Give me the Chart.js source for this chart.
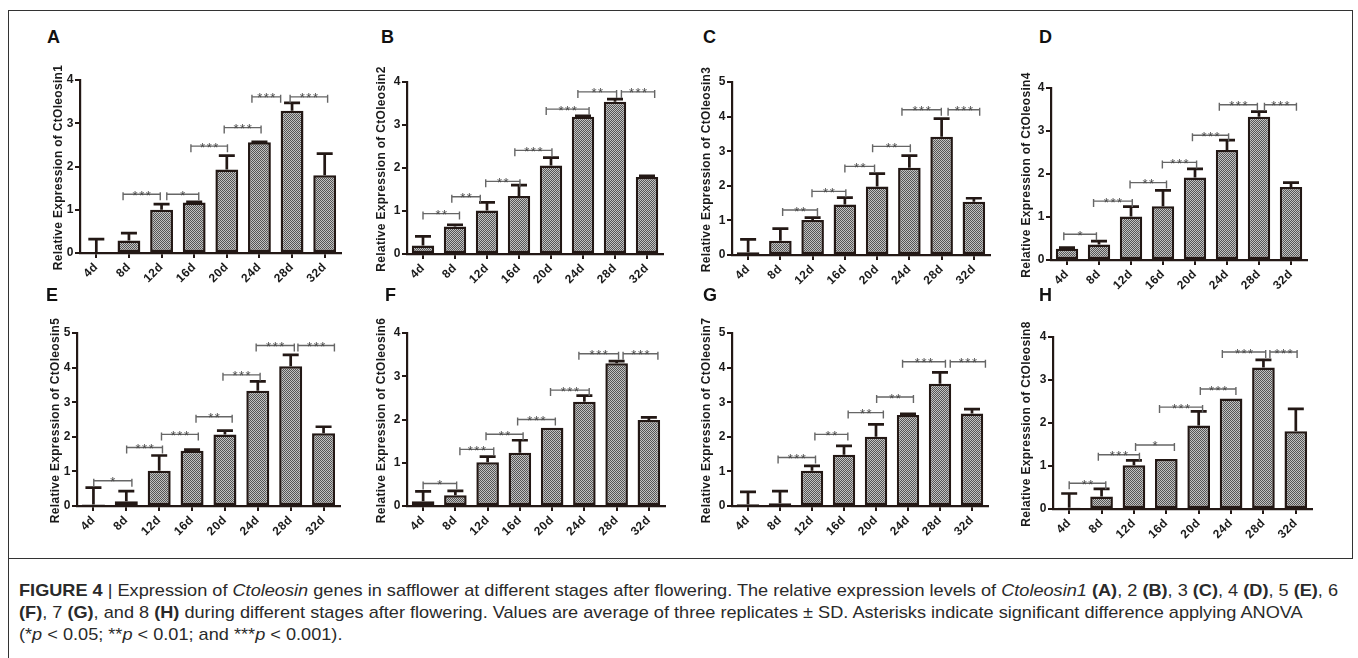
<!DOCTYPE html>
<html><head><meta charset="utf-8">
<script src="https://cdn.jsdelivr.net/npm/chart.js@4.4.1/dist/chart.umd.min.js"></script>
<style>
html,body{margin:0;padding:0;background:#fff}
body{width:1358px;height:658px;position:relative;overflow:hidden;font-family:Arial,"Liberation Sans",sans-serif}
canvas{position:absolute}
.letter{position:absolute;font:bold 18px Arial,"Liberation Sans",sans-serif;line-height:18px;color:#111}
.rule{position:absolute;background:#333}
#cap{position:absolute;left:19px;top:580px;font-family:Arial,"Liberation Sans",sans-serif;font-size:17px;line-height:22px;color:#2a2a2a;white-space:nowrap;transform-origin:0 0}
#cap div{height:22px}
</style></head><body>
<div class="rule" style="left:8px;top:10px;width:1345px;height:1px"></div>
<div class="rule" style="left:8px;top:10px;width:1px;height:648px"></div>
<div class="rule" style="left:1352px;top:10px;width:1px;height:549px"></div>
<div class="rule" style="left:8px;top:558px;width:1345px;height:1px"></div>
<div id="cap">
<div id="l1"><b>FIGURE 4</b> | Expression of <i>Ctoleosin</i> genes in safflower at different stages after flowering. The relative expression levels of <i>Ctoleosin1</i> <b>(A)</b>, 2 <b>(B)</b>, 3 <b>(C)</b>, 4 <b>(D)</b>, 5 <b>(E)</b>, 6</div>
<div><b>(F)</b>, 7 <b>(G)</b>, and 8 <b>(H)</b> during different stages after flowering. Values are average of three replicates ± SD. Asterisks indicate significant difference applying ANOVA</div>
<div>(*<i>p</i> &lt; 0.05; **<i>p</i> &lt; 0.01; and ***<i>p</i> &lt; 0.001).</div>
</div>
<script>
// ---------- data ----------
const categories = ['4d','8d','12d','16d','20d','24d','28d','32d'];
const panelLetters = ['A','B','C','D','E','F','G','H'];
const geneNames = ['CtOleosin1','CtOleosin2','CtOleosin3','CtOleosin4','CtOleosin5','CtOleosin6','CtOleosin7','CtOleosin8'];
const yMaxes = [4,4,5,4,5,4,5,4];

const mean1 = [0.02,0.29,1.00,1.17,1.93,2.56,3.29,1.80];
const sd1   = [0.30,0.17,0.13,0.01,0.32,0.01,0.18,0.50];
const sig1  = [[0.82,1.96,1.36,'***'],[2.16,3.14,1.36,'*'],[2.90,4.02,2.47,'***'],[3.92,5.05,2.90,'***'],[4.77,5.65,3.61,'***'],[5.94,7.09,3.61,'***']];

const mean2 = [0.20,0.64,1.01,1.35,2.06,3.19,3.54,1.79];
const sd2   = [0.21,0.04,0.19,0.25,0.18,0.02,0.06,0.03];
const sig2  = [[0.00,1.14,0.94,'**'],[0.90,1.79,1.33,'**'],[1.96,3.03,1.69,'**'],[2.87,4.03,2.41,'***'],[3.85,5.19,3.37,'***'],[4.84,6.05,3.77,'**'],[6.20,7.24,3.77,'***']];

const mean3 = [0.08,0.41,1.01,1.46,1.98,2.52,3.42,1.54];
const sd3   = [0.37,0.35,0.07,0.20,0.37,0.35,0.52,0.10];
const sig3  = [[1.07,2.15,1.30,'**'],[1.98,3.03,1.84,'**'],[3.00,3.92,2.56,'**'],[3.86,5.03,3.14,'**'],[4.77,5.99,4.20,'***'],[6.20,7.18,4.20,'***']];

const mean4 = [0.26,0.36,1.01,1.25,1.92,2.56,3.33,1.70];
const sd4   = [0.03,0.08,0.23,0.37,0.20,0.23,0.12,0.10];
const sig4  = [[-0.10,0.92,0.60,'*'],[0.83,2.04,1.37,'***'],[1.97,3.11,1.80,'**'],[2.98,4.05,2.27,'***'],[3.92,5.05,2.90,'***'],[4.76,5.95,3.61,'***'],[6.17,7.17,3.61,'***']];

const mean5 = [0.04,0.14,1.02,1.60,2.07,3.33,4.04,2.10];
const sd5   = [0.49,0.29,0.44,0.03,0.11,0.27,0.33,0.19];
const sig5  = [[0.01,1.17,0.73,'*'],[1.01,2.10,1.69,'***'],[2.07,3.19,2.07,'***'],[3.12,4.22,2.58,'**'],[3.94,5.07,3.79,'***'],[4.95,6.11,4.64,'***'],[6.22,7.33,4.64,'***']];

const mean6 = [0.11,0.25,1.01,1.23,1.81,2.41,3.30,1.99];
const sd6   = [0.23,0.10,0.13,0.29,0.00,0.14,0.05,0.06];
const sig6  = [[0.00,1.04,0.52,'*'],[1.14,2.19,1.31,'***'],[1.95,3.10,1.66,'**'],[2.93,4.10,2.00,'***'],[3.95,5.15,2.68,'***'],[4.83,6.06,3.52,'***'],[6.20,7.28,3.52,'***']];

const mean7 = [0.05,0.08,1.02,1.48,2.00,2.63,3.53,2.67];
const sd7   = [0.36,0.35,0.14,0.26,0.36,0.03,0.33,0.13];
const sig7  = [[0.94,2.11,1.40,'***'],[2.09,3.12,2.07,'**'],[3.13,4.23,2.70,'**'],[4.02,5.17,3.15,'**'],[4.83,6.17,4.17,'***'],[6.32,7.42,4.17,'***']];

const mean8 = [0.03,0.29,1.02,1.16,1.94,2.57,3.29,1.81];
const sd8   = [0.33,0.18,0.11,0.00,0.33,0.00,0.18,0.52];
const sig8  = [[0.00,1.13,0.60,'**'],[0.90,2.17,1.26,'***'],[2.05,3.25,1.49,'*'],[2.79,4.12,2.37,'***'],[4.05,5.15,2.79,'***'],[4.73,6.07,3.65,'***'],[6.20,7.04,3.65,'***']];

const means = [mean1,mean2,mean3,mean4,mean5,mean6,mean7,mean8];
const sds   = [sd1,sd2,sd3,sd4,sd5,sd6,sd7,sd8];
const sigs  = [sig1,sig2,sig3,sig4,sig5,sig6,sig7,sig8];

// ---------- layout (pixels) ----------
const plotBoxes = [[80,341,80,253],[407,663,82,254],[732,990,82,255],[1051,1307,88,260],
                   [77,340,333,506],[407,665,333,506],[732,988,333,506],[1053,1312,337,509]];
const titleXs = [59,382,707,1027,56,382,707,1027];
const letterPos = [[47,28],[381,28],[703,28],[1039,28],[46,286],[385,286],[703,286],[1039,286]];
const YW = 34, PT = 40, PR = 12, XH = 40;
const AXIS = '#231815';
const FONT = 'Arial, "Liberation Sans", sans-serif';

function makePattern(){
  const c = document.createElement('canvas'); c.width = 2; c.height = 2;
  const g = c.getContext('2d');
  g.fillStyle = '#c2c2c2'; g.fillRect(0,0,2,2);
  g.fillStyle = '#555555'; g.fillRect(0,0,1,1); g.fillRect(1,1,1,1);
  return g.createPattern(c,'repeat');
}
const pattern = makePattern();

const overlay = {
  id:'overlay',
  beforeDraw(chart){ chart.ctx.letterSpacing = '0.5px'; },
  afterDatasetsDraw(chart, args, o){
    const ctx = chart.ctx, xs = chart.scales.x, ys = chart.scales.y;
    const meta = chart.getDatasetMeta(0);
    ctx.save();
    ctx.letterSpacing = '0px';
    // error bars
    ctx.strokeStyle = AXIS; ctx.lineWidth = 2.7; ctx.lineCap = 'butt';
    o.mean.forEach((m,i)=>{
      const sd = o.sd[i]; if (sd <= 0) return;
      const x = meta.data[i].x, y0 = ys.getPixelForValue(m), y1 = ys.getPixelForValue(m+sd);
      ctx.beginPath();
      ctx.moveTo(x,y0); ctx.lineTo(x,y1);
      ctx.moveTo(x-8,y1); ctx.lineTo(x+8,y1);
      ctx.stroke();
    });
    // significance brackets
    ctx.strokeStyle = '#666'; ctx.lineWidth = 1.4;
    ctx.fillStyle = '#4a4a4a'; ctx.font = '13px ' + FONT; ctx.textAlign = 'center'; ctx.textBaseline = 'alphabetic';
    o.sig.forEach(([a,b,v,lab])=>{
      const x1 = xs.getPixelForValue(a), x2 = xs.getPixelForValue(b), y = ys.getPixelForValue(v);
      ctx.beginPath();
      ctx.moveTo(x1,y); ctx.lineTo(x2,y);
      ctx.moveTo(x1,y-2); ctx.lineTo(x1,y+6);
      ctx.moveTo(x2,y-2); ctx.lineTo(x2,y+6);
      ctx.stroke();
      const n = lab.length, mid = (x1+x2)/2, sp = 6.6;
      for (let k=0;k<n;k++) ctx.fillText('*', mid+(k-(n-1)/2)*sp, y+5.5);
    });
    ctx.restore();
  },
  afterDraw(chart, args, o){
    const ctx = chart.ctx, ca = chart.chartArea;
    ctx.save();
    ctx.translate(o.titleX, (ca.top+ca.bottom)/2 + 1);
    ctx.rotate(-Math.PI/2);
    ctx.font = 'bold 12px ' + FONT; ctx.fillStyle = '#1a1a1a';
    ctx.letterSpacing = '0.3px';
    ctx.textAlign = 'center'; ctx.textBaseline = 'middle';
    ctx.fillText(o.title, 0, 0);
    ctx.restore();
  }
};

panelLetters.forEach((L,p)=>{
  const d = document.createElement('div'); d.className = 'letter'; d.textContent = L;
  d.style.left = letterPos[p][0]+'px'; d.style.top = letterPos[p][1]+'px';
  document.body.appendChild(d);

  const [l,r,t,b] = plotBoxes[p];
  const cv = document.createElement('canvas');
  const cl = l - YW, ctop = t - PT;
  const w = (r-l) + YW + PR, h = (b-t) + PT + XH;
  cv.width = w; cv.height = h; cv.style.left = cl+'px'; cv.style.top = ctop+'px';
  cv.style.width = w+'px'; cv.style.height = h+'px';
  document.body.appendChild(cv);

  new Chart(cv, {
    type:'bar',
    data:{labels:categories, datasets:[{data:means[p], backgroundColor:pattern, borderColor:AXIS, borderWidth:2.5, borderSkipped:false, barPercentage:0.7, categoryPercentage:1.0}]},
    options:{
      responsive:false, animation:false, devicePixelRatio:1,
      layout:{padding:{top:PT,right:PR,left:0,bottom:0}},
      plugins:{legend:{display:false}, tooltip:{enabled:false},
        overlay:{mean:means[p], sd:sds[p], sig:sigs[p], title:'Relative Expression of '+geneNames[p], titleX:titleXs[p]-cl}},
      scales:{
        x:{
          grid:{display:true, drawOnChartArea:false, offset:false, tickLength:5, color:AXIS, lineWidth:2},
          border:{display:true, color:AXIS, width:2.2},
          ticks:{font:{family:FONT, weight:'bold', size:12}, color:'#1a1a1a', minRotation:45, maxRotation:45, padding:2, autoSkip:false},
          afterFit:s=>{s.height = XH;}
        },
        y:{
          min:0, max:yMaxes[p],
          grid:{display:true, drawOnChartArea:false, tickLength:5, color:AXIS, lineWidth:2},
          border:{display:true, color:AXIS, width:2.2},
          ticks:{stepSize:1, font:{family:FONT, weight:'bold', size:12}, color:'#1a1a1a', padding:1},
          afterFit:s=>{s.width = YW;}
        }
      }
    },
    plugins:[overlay]
  });
});

// fit caption first line to the reference width
(function(){
  const cap = document.getElementById('cap');
  const l1 = document.getElementById('l1');
  const range = document.createRange(); range.selectNodeContents(l1);
  const wNat = range.getBoundingClientRect().width;
  cap.style.transform = 'scaleX(' + (1319 / wNat).toFixed(4) + ')';
})();
</script>
</body></html>
